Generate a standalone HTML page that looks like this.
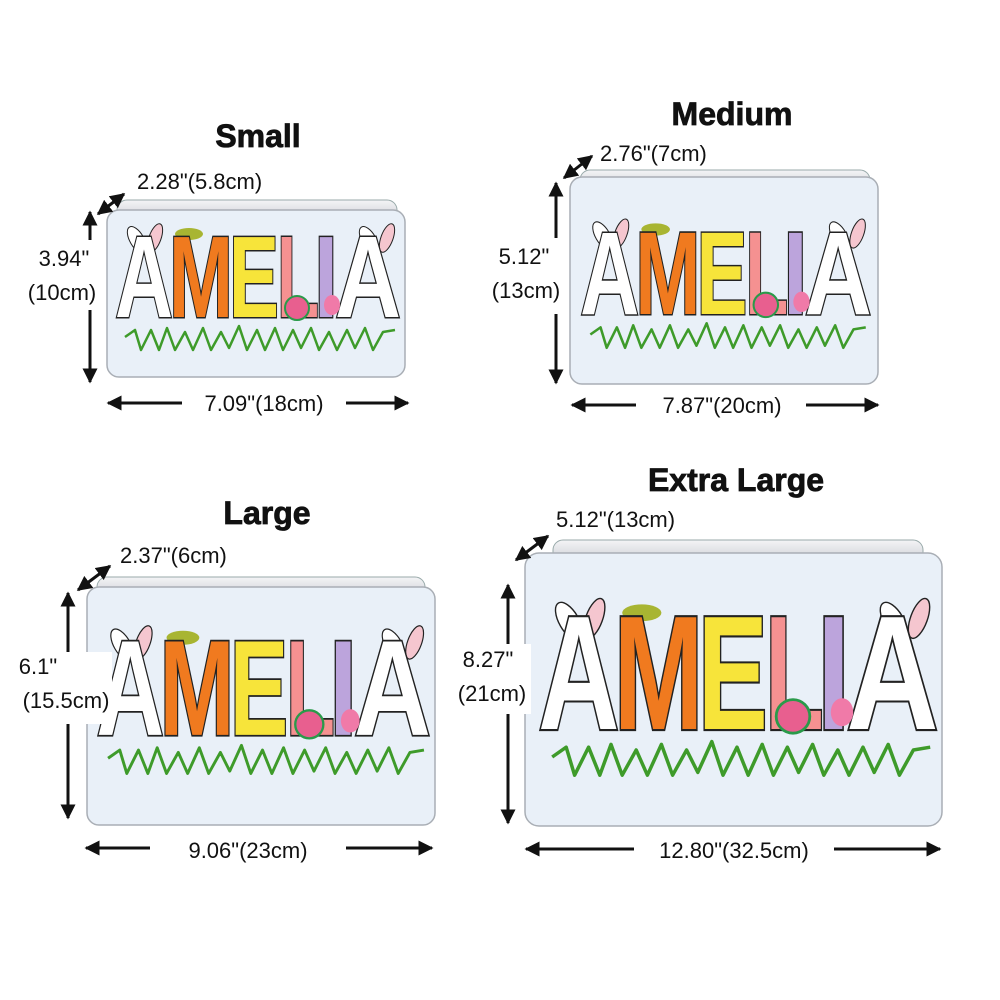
<!DOCTYPE html>
<html><head><meta charset="utf-8"><style>
html,body{margin:0;padding:0;background:#fff}
svg{display:block}
.t{font-family:"Liberation Sans",sans-serif;font-weight:bold;fill:#111;stroke:#111;stroke-width:0.8}
.d{font-family:"Liberation Sans",sans-serif;font-size:22px;fill:#111}
.L{font-family:"Liberation Sans",sans-serif;font-weight:bold;font-size:116px;stroke:#222;stroke-width:3;paint-order:stroke}
</style></head><body>
<svg width="1000" height="1000" viewBox="0 0 1000 1000" xmlns="http://www.w3.org/2000/svg">
<defs>
<marker id="ah" viewBox="0 0 10 10" refX="9" refY="5" markerWidth="5" markerHeight="5" orient="auto-start-reverse"><path d="M0,0L10,5L0,10z" fill="#111"/></marker>
<linearGradient id="lid" x1="0" y1="0" x2="0" y2="1"><stop offset="0" stop-color="#f4f4f6"/><stop offset="1" stop-color="#c9ccd2"/></linearGradient>
</defs>

<text class="t" x="258" y="147" font-size="32" text-anchor="middle">Small</text>
<text class="t" x="732" y="125" font-size="32" text-anchor="middle">Medium</text>
<text class="t" x="267" y="524" font-size="32" text-anchor="middle">Large</text>
<text class="t" x="736" y="491" font-size="32" text-anchor="middle">Extra Large</text>

<g>
<rect x="117" y="200" width="280" height="22" rx="10" fill="url(#lid)" stroke="#9aa" stroke-width="1"/>
<rect x="107" y="210" width="298" height="167" rx="12" fill="#e9f0f8" stroke="#a9aeb5" stroke-width="1.5"/>
<rect x="580" y="170" width="290" height="22" rx="10" fill="url(#lid)" stroke="#9aa" stroke-width="1"/>
<rect x="570" y="177" width="308" height="207" rx="12" fill="#e9f0f8" stroke="#a9aeb5" stroke-width="1.5"/>
<rect x="97" y="577" width="328" height="22" rx="10" fill="url(#lid)" stroke="#9aa" stroke-width="1"/>
<rect x="87" y="587" width="348" height="238" rx="12" fill="#e9f0f8" stroke="#a9aeb5" stroke-width="1.5"/>
<rect x="553" y="540" width="370" height="24" rx="10" fill="url(#lid)" stroke="#9aa" stroke-width="1"/>
<rect x="525" y="553" width="417" height="273" rx="14" fill="#e9f0f8" stroke="#a9aeb5" stroke-width="1.5"/>
</g>

<g transform="translate(107,212) scale(1)">
 <ellipse cx="30" cy="28" rx="7" ry="15" fill="#fff" stroke="#222" transform="rotate(-30 30 28)"/><ellipse cx="48" cy="26" rx="6" ry="15" fill="#f5c6cf" stroke="#222" transform="rotate(20 48 26)"/>
 <ellipse cx="262" cy="28" rx="7" ry="15" fill="#fff" stroke="#222" transform="rotate(-30 262 28)"/><ellipse cx="280" cy="26" rx="6" ry="15" fill="#f5c6cf" stroke="#222" transform="rotate(20 280 26)"/>
 <ellipse cx="82" cy="22" rx="14" ry="6" fill="#a8b532"/>
 <text class="L" x="8" y="105" fill="#fff" textLength="58" lengthAdjust="spacingAndGlyphs">A</text>
 <text class="L" x="62" y="105" fill="#f07a1f" textLength="64" lengthAdjust="spacingAndGlyphs">M</text>
 <text class="L" x="122" y="105" fill="#f7e43a" textLength="50" lengthAdjust="spacingAndGlyphs">E</text>
 <text class="L" x="170" y="105" fill="#f59191" textLength="42" lengthAdjust="spacingAndGlyphs">L</text>
 <text class="L" x="207" y="105" fill="#bca4dc" textLength="24" lengthAdjust="spacingAndGlyphs">I</text>
 <text class="L" x="228" y="105" fill="#fff" textLength="66" lengthAdjust="spacingAndGlyphs">A</text>
 <ellipse cx="190" cy="96" rx="12" ry="12" fill="#e85f8f" stroke="#2a9a4a" stroke-width="2"/>
 <ellipse cx="225" cy="93" rx="8" ry="10" fill="#f07aa8"/>
 <polyline points="18,125 28,118 34,138 44,118 52,138 60,116 68,138 78,120 86,138 96,116 104,138 114,120 122,136 132,114 140,138 150,118 158,138 168,116 176,138 186,118 194,136 204,116 212,138 222,120 230,138 240,118 248,136 258,116 266,138 276,120 288,118" fill="none" stroke="#3e9b2a" stroke-width="2.5" stroke-linejoin="round"/>
</g>
<g transform="translate(572,207) scale(1.02)">
 <ellipse cx="30" cy="28" rx="7" ry="15" fill="#fff" stroke="#222" transform="rotate(-30 30 28)"/><ellipse cx="48" cy="26" rx="6" ry="15" fill="#f5c6cf" stroke="#222" transform="rotate(20 48 26)"/>
 <ellipse cx="262" cy="28" rx="7" ry="15" fill="#fff" stroke="#222" transform="rotate(-30 262 28)"/><ellipse cx="280" cy="26" rx="6" ry="15" fill="#f5c6cf" stroke="#222" transform="rotate(20 280 26)"/>
 <ellipse cx="82" cy="22" rx="14" ry="6" fill="#a8b532"/>
 <text class="L" x="8" y="105" fill="#fff" textLength="58" lengthAdjust="spacingAndGlyphs">A</text>
 <text class="L" x="62" y="105" fill="#f07a1f" textLength="64" lengthAdjust="spacingAndGlyphs">M</text>
 <text class="L" x="122" y="105" fill="#f7e43a" textLength="50" lengthAdjust="spacingAndGlyphs">E</text>
 <text class="L" x="170" y="105" fill="#f59191" textLength="42" lengthAdjust="spacingAndGlyphs">L</text>
 <text class="L" x="207" y="105" fill="#bca4dc" textLength="24" lengthAdjust="spacingAndGlyphs">I</text>
 <text class="L" x="228" y="105" fill="#fff" textLength="66" lengthAdjust="spacingAndGlyphs">A</text>
 <ellipse cx="190" cy="96" rx="12" ry="12" fill="#e85f8f" stroke="#2a9a4a" stroke-width="2"/>
 <ellipse cx="225" cy="93" rx="8" ry="10" fill="#f07aa8"/>
 <polyline points="18,125 28,118 34,138 44,118 52,138 60,116 68,138 78,120 86,138 96,116 104,138 114,120 122,136 132,114 140,138 150,118 158,138 168,116 176,138 186,118 194,136 204,116 212,138 222,120 230,138 240,118 248,136 258,116 266,138 276,120 288,118" fill="none" stroke="#3e9b2a" stroke-width="2.5" stroke-linejoin="round"/>
</g>
<g transform="translate(87,612) scale(1.17)">
 <ellipse cx="30" cy="28" rx="7" ry="15" fill="#fff" stroke="#222" transform="rotate(-30 30 28)"/><ellipse cx="48" cy="26" rx="6" ry="15" fill="#f5c6cf" stroke="#222" transform="rotate(20 48 26)"/>
 <ellipse cx="262" cy="28" rx="7" ry="15" fill="#fff" stroke="#222" transform="rotate(-30 262 28)"/><ellipse cx="280" cy="26" rx="6" ry="15" fill="#f5c6cf" stroke="#222" transform="rotate(20 280 26)"/>
 <ellipse cx="82" cy="22" rx="14" ry="6" fill="#a8b532"/>
 <text class="L" x="8" y="105" fill="#fff" textLength="58" lengthAdjust="spacingAndGlyphs">A</text>
 <text class="L" x="62" y="105" fill="#f07a1f" textLength="64" lengthAdjust="spacingAndGlyphs">M</text>
 <text class="L" x="122" y="105" fill="#f7e43a" textLength="50" lengthAdjust="spacingAndGlyphs">E</text>
 <text class="L" x="170" y="105" fill="#f59191" textLength="42" lengthAdjust="spacingAndGlyphs">L</text>
 <text class="L" x="207" y="105" fill="#bca4dc" textLength="24" lengthAdjust="spacingAndGlyphs">I</text>
 <text class="L" x="228" y="105" fill="#fff" textLength="66" lengthAdjust="spacingAndGlyphs">A</text>
 <ellipse cx="190" cy="96" rx="12" ry="12" fill="#e85f8f" stroke="#2a9a4a" stroke-width="2"/>
 <ellipse cx="225" cy="93" rx="8" ry="10" fill="#f07aa8"/>
 <polyline points="18,125 28,118 34,138 44,118 52,138 60,116 68,138 78,120 86,138 96,116 104,138 114,120 122,136 132,114 140,138 150,118 158,138 168,116 176,138 186,118 194,136 204,116 212,138 222,120 230,138 240,118 248,136 258,116 266,138 276,120 288,118" fill="none" stroke="#3e9b2a" stroke-width="2.5" stroke-linejoin="round"/>
</g>
<g transform="translate(527,582) scale(1.4)">
 <ellipse cx="30" cy="28" rx="7" ry="15" fill="#fff" stroke="#222" transform="rotate(-30 30 28)"/><ellipse cx="48" cy="26" rx="6" ry="15" fill="#f5c6cf" stroke="#222" transform="rotate(20 48 26)"/>
 <ellipse cx="262" cy="28" rx="7" ry="15" fill="#fff" stroke="#222" transform="rotate(-30 262 28)"/><ellipse cx="280" cy="26" rx="6" ry="15" fill="#f5c6cf" stroke="#222" transform="rotate(20 280 26)"/>
 <ellipse cx="82" cy="22" rx="14" ry="6" fill="#a8b532"/>
 <text class="L" x="8" y="105" fill="#fff" textLength="58" lengthAdjust="spacingAndGlyphs">A</text>
 <text class="L" x="62" y="105" fill="#f07a1f" textLength="64" lengthAdjust="spacingAndGlyphs">M</text>
 <text class="L" x="122" y="105" fill="#f7e43a" textLength="50" lengthAdjust="spacingAndGlyphs">E</text>
 <text class="L" x="170" y="105" fill="#f59191" textLength="42" lengthAdjust="spacingAndGlyphs">L</text>
 <text class="L" x="207" y="105" fill="#bca4dc" textLength="24" lengthAdjust="spacingAndGlyphs">I</text>
 <text class="L" x="228" y="105" fill="#fff" textLength="66" lengthAdjust="spacingAndGlyphs">A</text>
 <ellipse cx="190" cy="96" rx="12" ry="12" fill="#e85f8f" stroke="#2a9a4a" stroke-width="2"/>
 <ellipse cx="225" cy="93" rx="8" ry="10" fill="#f07aa8"/>
 <polyline points="18,125 28,118 34,138 44,118 52,138 60,116 68,138 78,120 86,138 96,116 104,138 114,120 122,136 132,114 140,138 150,118 158,138 168,116 176,138 186,118 194,136 204,116 212,138 222,120 230,138 240,118 248,136 258,116 266,138 276,120 288,118" fill="none" stroke="#3e9b2a" stroke-width="2.5" stroke-linejoin="round"/>
</g>

<g stroke="#111" stroke-width="3" marker-start="url(#ah)" marker-end="url(#ah)" fill="none">
 <line x1="98" y1="214" x2="124" y2="194"/>
 <line x1="90" y1="212" x2="90" y2="382"/>
 <line x1="108" y1="403" x2="408" y2="403"/>
 <line x1="564" y1="178" x2="592" y2="156"/>
 <line x1="556" y1="183" x2="556" y2="383"/>
 <line x1="572" y1="405" x2="878" y2="405"/>
 <line x1="78" y1="590" x2="110" y2="566"/>
 <line x1="68" y1="593" x2="68" y2="818"/>
 <line x1="86" y1="848" x2="432" y2="848"/>
 <line x1="516" y1="560" x2="548" y2="536"/>
 <line x1="508" y1="585" x2="508" y2="823"/>
 <line x1="526" y1="849" x2="940" y2="849"/>
</g>
<g fill="#fff">
 <rect x="20" y="240" width="84" height="70"/>
 <rect x="182" y="388" width="164" height="30"/>
 <rect x="478" y="238" width="90" height="76"/>
 <rect x="636" y="390" width="170" height="30"/>
 <rect x="4" y="652" width="108" height="72"/>
 <rect x="150" y="833" width="196" height="30"/>
 <rect x="455" y="644" width="76" height="70"/>
 <rect x="634" y="834" width="200" height="30"/>
</g>
<text class="d" x="137" y="189">2.28"(5.8cm)</text>
<text class="d" x="64" y="266" text-anchor="middle">3.94"</text>
<text class="d" x="62" y="300" text-anchor="middle">(10cm)</text>
<text class="d" x="264" y="411" text-anchor="middle">7.09"(18cm)</text>

<text class="d" x="600" y="161">2.76"(7cm)</text>
<text class="d" x="524" y="264" text-anchor="middle">5.12"</text>
<text class="d" x="526" y="298" text-anchor="middle">(13cm)</text>
<text class="d" x="722" y="413" text-anchor="middle">7.87"(20cm)</text>

<text class="d" x="120" y="563">2.37"(6cm)</text>
<text class="d" x="38" y="674" text-anchor="middle">6.1"</text>
<text class="d" x="66" y="708" text-anchor="middle">(15.5cm)</text>
<text class="d" x="248" y="858" text-anchor="middle">9.06"(23cm)</text>

<text class="d" x="556" y="527">5.12"(13cm)</text>
<text class="d" x="488" y="667" text-anchor="middle">8.27"</text>
<text class="d" x="492" y="701" text-anchor="middle">(21cm)</text>
<text class="d" x="734" y="858" text-anchor="middle">12.80"(32.5cm)</text>
</svg>
</body></html>
